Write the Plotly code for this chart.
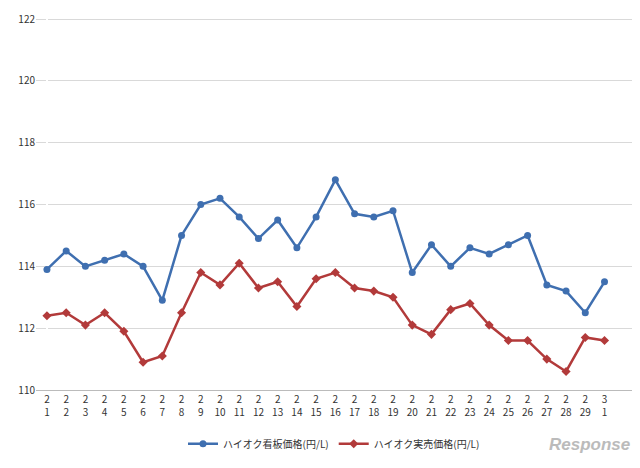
import plotly.graph_objects as go

# 日付ラベル (月/日)
months = ["2"] * 29 + ["3"]
days = [str(d) for d in range(1, 30)] + ["1"]
tick_labels = [m + "<br>" + d for m, d in zip(months, days)]

# ハイオク看板価格(円/L)
kanban = [113.9, 114.5, 114.0, 114.2, 114.4, 114.0, 112.9, 115.0, 116.0, 116.2,
          115.6, 114.9, 115.5, 114.6, 115.6, 116.8, 115.7, 115.6, 115.8, 113.8,
          114.7, 114.0, 114.6, 114.4, 114.7, 115.0, 113.4, 113.2, 112.5, 113.5]
# ハイオク実売価格(円/L)
jitsubai = [112.4, 112.5, 112.1, 112.5, 111.9, 110.9, 111.1, 112.5, 113.8, 113.4,
            114.1, 113.3, 113.5, 112.7, 113.6, 113.8, 113.3, 113.2, 113.0, 112.1,
            111.8, 112.6, 112.8, 112.1, 111.6, 111.6, 111.0, 110.6, 111.7, 111.6]

x = list(range(len(tick_labels)))

fig = go.Figure()
fig.add_trace(go.Scatter(x=x, y=kanban, name="ハイオク看板価格(円/L)", mode="lines+markers",
                         line=dict(color="#3f6fb0", width=2.5),
                         marker=dict(symbol="circle", size=7, color="#3f6fb0")))
fig.add_trace(go.Scatter(x=x, y=jitsubai, name="ハイオク実売価格(円/L)", mode="lines+markers",
                         line=dict(color="#b23a3a", width=2.5),
                         marker=dict(symbol="diamond", size=7, color="#b23a3a")))

fig.update_layout(
    width=640, height=468,
    margin=dict(l=28, r=16, t=8, b=86, autoexpand=False),
    plot_bgcolor="white", paper_bgcolor="white",
    font=dict(family="Noto Sans CJK JP", size=10, color="#333"),
    legend=dict(orientation="h", x=0.5, xanchor="center", y=-0.105, yanchor="top",
                font=dict(size=10)),
)
fig.update_xaxes(tickmode="array", tickvals=x, ticktext=tick_labels,
                 range=[-0.57, 30.43], showgrid=False,
                 showline=True, linecolor="#bbb", ticks="outside", ticklen=0,
                 tickfont=dict(size=10, color="#333"))
fig.update_yaxes(range=[110, 122.1], tickvals=[110, 112, 114, 116, 118, 120, 122],
                 showgrid=True, gridcolor="#d9d9d9",
                 zeroline=False, tickfont=dict(size=10, color="#333"))

fig.add_annotation(text="<i><b>Response</b></i>", xref="paper", yref="paper",
                   x=1.0, y=-0.115, xanchor="right", yanchor="top", showarrow=False,
                   font=dict(size=17, color="#bbb", family="Liberation Sans"))

fig.write_html("out.html")
